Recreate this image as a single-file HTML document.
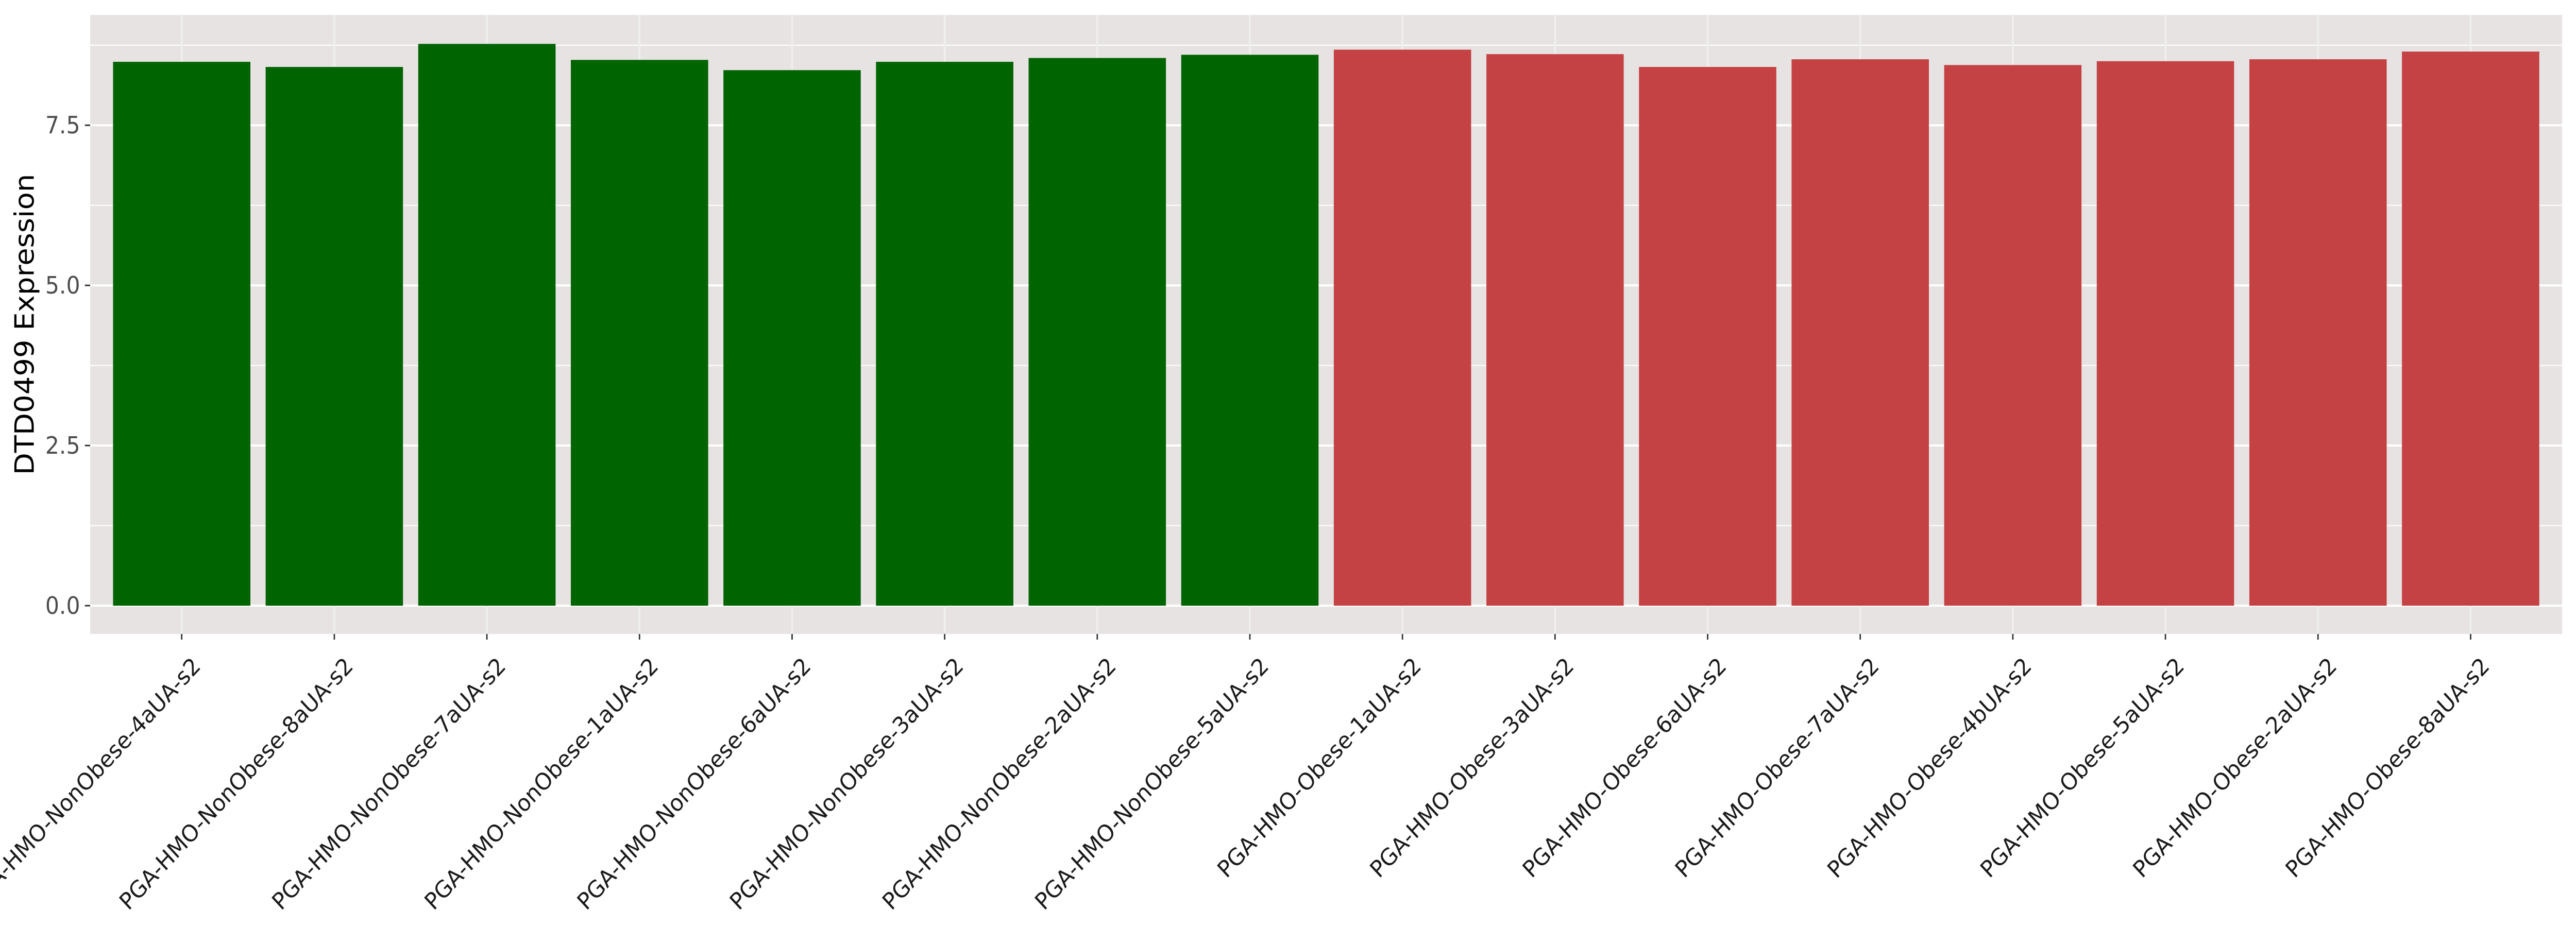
<!DOCTYPE html>
<html><head><meta charset="utf-8">
<style>html,body{margin:0;padding:0;background:#fff;width:100%;height:100%;overflow:hidden;}svg{display:block;position:absolute;left:0;top:0;}</style>
</head><body>
<svg id="chart" width="100%" height="100%" viewBox="0 0 5400 1800" preserveAspectRatio="none" xmlns="http://www.w3.org/2000/svg" font-family="'DejaVu Sans','Liberation Sans',sans-serif">
<rect x="0" y="0" width="5400" height="1800" fill="#ffffff"/>
<rect x="189" y="29" width="5182" height="1202" fill="#e8e3e3"/>
<g id="grid"></g>
<g id="bars"></g>
<g id="yaxis"></g>
<g id="xaxis"></g>
<text transform="translate(71,630) rotate(-90)" text-anchor="middle" font-size="56" fill="#000">DTD0499 Expression</text>
</svg>
<script>
const categories = ["PGA-HMO-NonObese-4aUA-s2","PGA-HMO-NonObese-8aUA-s2","PGA-HMO-NonObese-7aUA-s2","PGA-HMO-NonObese-1aUA-s2","PGA-HMO-NonObese-6aUA-s2","PGA-HMO-NonObese-3aUA-s2","PGA-HMO-NonObese-2aUA-s2","PGA-HMO-NonObese-5aUA-s2","PGA-HMO-Obese-1aUA-s2","PGA-HMO-Obese-3aUA-s2","PGA-HMO-Obese-6aUA-s2","PGA-HMO-Obese-7aUA-s2","PGA-HMO-Obese-4bUA-s2","PGA-HMO-Obese-5aUA-s2","PGA-HMO-Obese-2aUA-s2","PGA-HMO-Obese-8aUA-s2"];
const values = [8.49,8.41,8.77,8.52,8.36,8.49,8.55,8.60,8.68,8.61,8.41,8.53,8.44,8.50,8.53,8.65];
const groups = ["NonObese","NonObese","NonObese","NonObese","NonObese","NonObese","NonObese","NonObese","Obese","Obese","Obese","Obese","Obese","Obese","Obese","Obese"];
const yTicks = [0, 2.5, 5, 7.5];
const yTickLabels = ["0.0","2.5","5.0","7.5"];
const yMinor = [1.25, 3.75, 6.25, 8.75];
const groupColors = {NonObese:"#006400", Obese:"#c44243"};

const NS = "http://www.w3.org/2000/svg";
const panelL = 189, panelR = 5371, panelT = 29, panelB = 1231;
const yMin = -0.4416, yMax = 9.222;
function yScale(v){ return panelB - (v - yMin) / (yMax - yMin) * (panelB - panelT); }
const step = (panelR - panelL) / (categories.length + 0.2);
function xScale(i){ return panelL + step * (0.6 + i); }
const barW = step * 0.9;

function mk(tag, attrs, parent){ const e = document.createElementNS(NS, tag); for (const k in attrs) e.setAttribute(k, attrs[k]); parent.appendChild(e); return e; }

const grid = document.getElementById('grid');
yMinor.forEach(v => {
  const l = mk('line', {x1:panelL, x2:panelR, y1:yScale(v), y2:yScale(v), stroke:'#ffffff', 'stroke-width':2}, grid);
  
  
});
yTicks.forEach(v => {
  const l = mk('line', {x1:panelL, x2:panelR, y1:yScale(v), y2:yScale(v), stroke:'#ffffff', 'stroke-width':4}, grid);
  
  
});
categories.forEach((c, i) => {
  const l = mk('line', {x1:xScale(i), x2:xScale(i), y1:panelT, y2:panelB, stroke:'#efefef', 'stroke-width':4}, grid);
  
  
});

const bars = document.getElementById('bars');
values.forEach((v, i) => {
  const y0 = yScale(0), y1 = yScale(v);
  const r = mk('rect', {x:xScale(i) - barW/2, y:y1, width:barW, height:y0 - y1, fill:groupColors[groups[i]]}, bars);
  
  
});

const yaxis = document.getElementById('yaxis');
yTicks.forEach((v, i) => {
  const t = mk('line', {x1:panelL - 11, x2:panelL, y1:yScale(v), y2:yScale(v), stroke:'#333', 'stroke-width':3}, yaxis);
  
  
  const tx = mk('text', {x:168, y:yScale(v) + 16, 'text-anchor':'end', 'font-size':46, fill:'#4d4d4d'}, yaxis);
  
  
  tx.textContent = yTickLabels[i];
});

const xaxis = document.getElementById('xaxis');
categories.forEach((c, i) => {
  const x = xScale(i);
  const t = mk('line', {x1:x, x2:x, y1:panelB, y2:panelB + 11, stroke:'#333', 'stroke-width':3}, xaxis);
  
  
  const tx = mk('text', {transform:'translate(' + (x + 42) + ',1296) rotate(-45)', 'text-anchor':'end', 'font-size':45, fill:'#1a1a1a'}, xaxis);
  
  
  tx.textContent = c;
});
</script>
</body></html>
